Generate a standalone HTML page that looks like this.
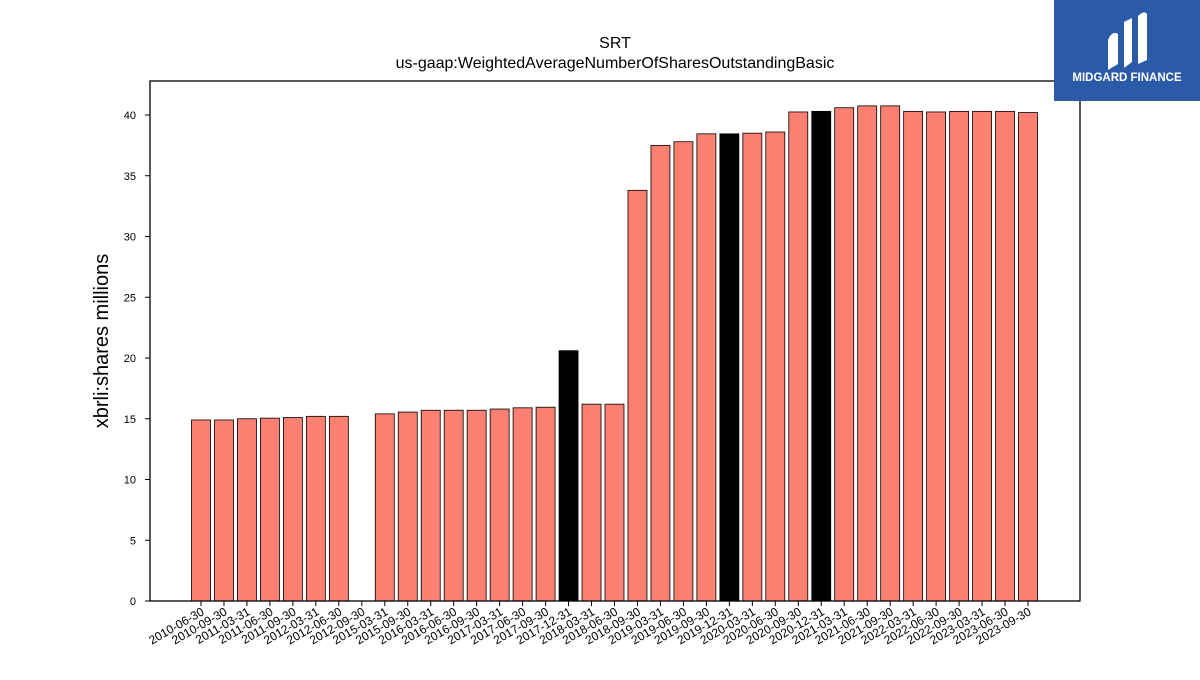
<!DOCTYPE html>
<html><head><meta charset="utf-8"><style>
body{margin:0;background:#fff;width:1200px;height:675px;overflow:hidden;font-family:"Liberation Sans","DejaVu Sans",sans-serif}
</style></head><body>
<svg width="1200" height="675" xmlns="http://www.w3.org/2000/svg">
<text x="615" y="48" font-size="16" text-anchor="middle">SRT</text>
<text x="615" y="68" font-size="16" text-anchor="middle">us-gaap:WeightedAverageNumberOfSharesOutstandingBasic</text>
<text transform="translate(108,341) rotate(-90)" font-size="20" text-anchor="middle">xbrli:shares millions</text>
<g id="bars"></g><g id="yt"></g><g id="xt"></g>
<rect x="150" y="81" width="930" height="520" fill="none" stroke="#000" stroke-width="1.3"/>
<g>
<rect x="1054" y="0" width="146" height="101" fill="#2b5aa9"/>
<path d="M1108 70 L1108 40 Q1112 30 1118 34 L1118 64 Z M1124 68 L1124 22 L1132 18 L1132 62 Z M1138 64 L1138 16 Q1144 10 1147 14 L1147 60 Z" fill="#fff"/>
<text x="1127" y="81" font-size="11.5" font-weight="bold" fill="#fff" text-anchor="middle">MIDGARD FINANCE</text>
</g>
</svg>
<script>
const categories=["2010-06-30","2010-09-30","2011-03-31","2011-06-30","2011-09-30","2012-03-31","2012-06-30","2012-09-30","2015-03-31","2015-09-30","2016-03-31","2016-06-30","2016-09-30","2017-03-31","2017-06-30","2017-09-30","2017-12-31","2018-03-31","2018-06-30","2018-09-30","2019-03-31","2019-06-30","2019-09-30","2019-12-31","2020-03-31","2020-06-30","2020-09-30","2020-12-31","2021-03-31","2021-06-30","2021-09-30","2022-03-31","2022-06-30","2022-09-30","2023-03-31","2023-06-30","2023-09-30"];
const values=[14.9,14.9,15.0,15.05,15.1,15.2,15.2,0,15.4,15.55,15.7,15.7,15.7,15.8,15.9,15.95,20.6,16.2,16.2,33.8,37.5,37.8,38.45,38.45,38.5,38.6,40.25,40.3,40.6,40.75,40.75,40.3,40.25,40.3,40.3,40.3,40.2];
const highlighted=["2017-12-31","2019-12-31","2020-12-31"];
const yTicks=[0,5,10,15,20,25,30,35,40];
const NS="http://www.w3.org/2000/svg";
const x=i=>201+i*(1028-201)/(categories.length-1);
const y=v=>601-v*(601-115)/40;
const bw=19;
const bars=document.getElementById('bars'),yt=document.getElementById('yt'),xt=document.getElementById('xt');
function mk(tag,at,parent){const e=document.createElementNS(NS,tag);for(const k in at)e.setAttribute(k,at[k]);parent.appendChild(e);return e;}
categories.forEach((c,i)=>{
  const v=values[i];
  if(v>0){
    const r=mk('rect',{x:x(i)-bw/2,y:y(v),width:bw,height:y(0)-y(v),fill:highlighted.includes(c)?'#000':'#fa8072',stroke:'#000','stroke-width':0.8},bars);
    
    
  }
  const t=mk('line',{x1:x(i),x2:x(i),y1:601,y2:606,stroke:'#000'},xt);
  
  
  const l=mk('text',{transform:`translate(${x(i)+4},614) rotate(-30)`,'font-size':12,'text-anchor':'end'},xt);
  l.textContent=c;
  
  
});
yTicks.forEach(v=>{
  const t=mk('line',{x1:145,x2:150,y1:y(v),y2:y(v),stroke:'#000'},yt);
  
  
  const l=mk('text',{x:136,y:y(v)+4,'font-size':11,'text-anchor':'end'},yt);
  l.textContent=v;
  
  
});
</script>
</body></html>
